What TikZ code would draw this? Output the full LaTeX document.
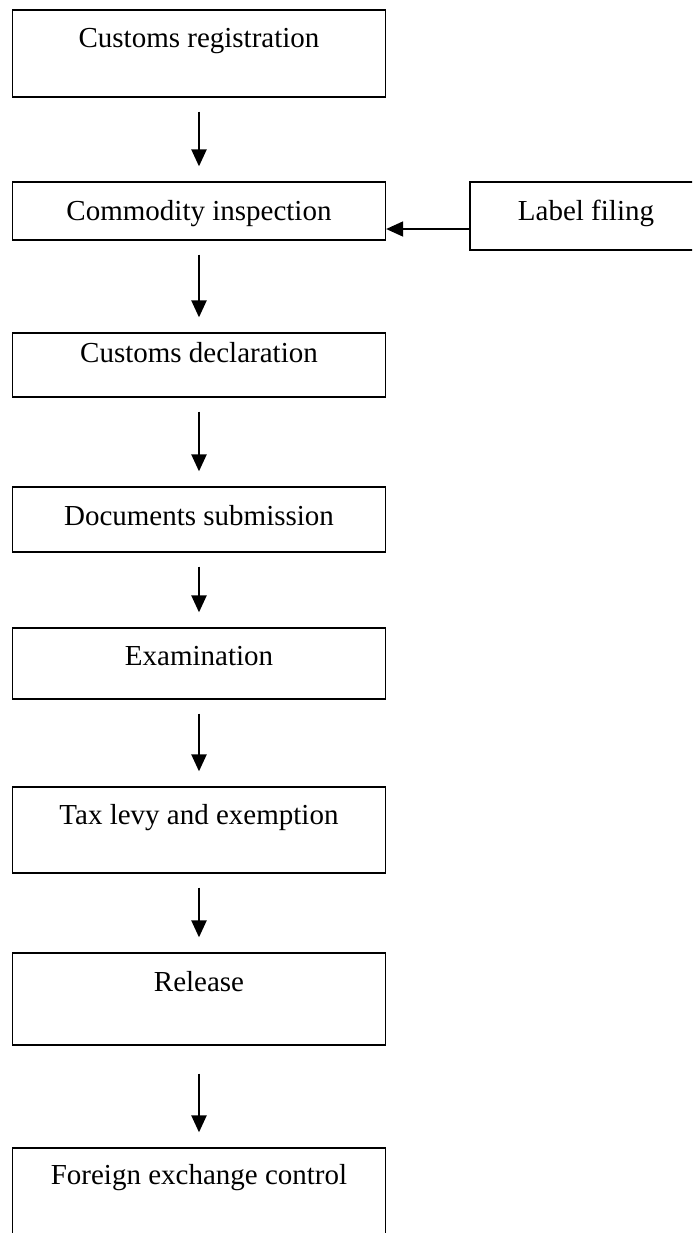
\documentclass[tikz,border=0pt]{standalone}
\usepackage{fontspec}
\setmainfont{Liberation Serif}
\usetikzlibrary{arrows.meta}

\tikzset{
  stage/.style={draw, line width=0.65pt, inner xsep=0pt, inner ysep=0pt, minimum width=186.5pt, anchor=base, font=\fontsize{14.5}{17}\selectfont},
  flow/.style={-{Triangle[length=8.5pt,width=7.5pt]}, line width=1.2pt, shorten <=7pt, shorten >=7.5pt},
  feed/.style={-{Triangle[length=8.5pt,width=7.5pt]}, line width=0.9pt},
}

\begin{document}
\begin{tikzpicture}[x=0.5pt, y=-0.5pt]
  \useasboundingbox (0,0) rectangle (692,1233);
  \clip (0,0) rectangle (692,1233);
  % main chain
  \node[stage, text height=18.5pt, text depth=25pt] (reg) at (199,47) {Customs registration};
  \node[stage, text height=19pt, text depth=10pt] (insp) at (199,220) {Commodity inspection};
  \node[stage, text height=14.5pt, text depth=17.5pt] (decl) at (199,362) {Customs declaration};
  \node[stage, text height=19pt, text depth=13.5pt] (docs) at (199,525) {Documents submission};
  \node[stage, text height=18.5pt, text depth=17pt] (exam) at (199,665) {Examination};
  \node[stage, text height=18.5pt, text depth=24.5pt] (tax) at (199,824) {Tax levy and exemption};
  \node[stage, text height=19pt, text depth=27pt] (rel) at (199,991) {Release};
  \node[stage, text height=18pt, text depth=40pt] (forex) at (199,1184) {Foreign exchange control};
  % side box
  \node[stage, minimum width=116pt, text height=19pt, text depth=15pt] (lab) at (586,220) {Label filing};

  \draw[flow] (reg) -- (insp);
  \draw[flow] (insp) -- (decl);
  \draw[flow] (decl) -- (docs);
  \draw[flow] (docs) -- (exam);
  \draw[flow] (exam) -- (tax);
  \draw[flow] (tax) -- (rel);
  \draw[flow, shorten <=14pt] (rel) -- (forex);
  \draw[feed] ([yshift=-6.5pt]lab.west) -- ([yshift=-6.5pt]lab.west -| insp.east);
\end{tikzpicture}
\end{document}
